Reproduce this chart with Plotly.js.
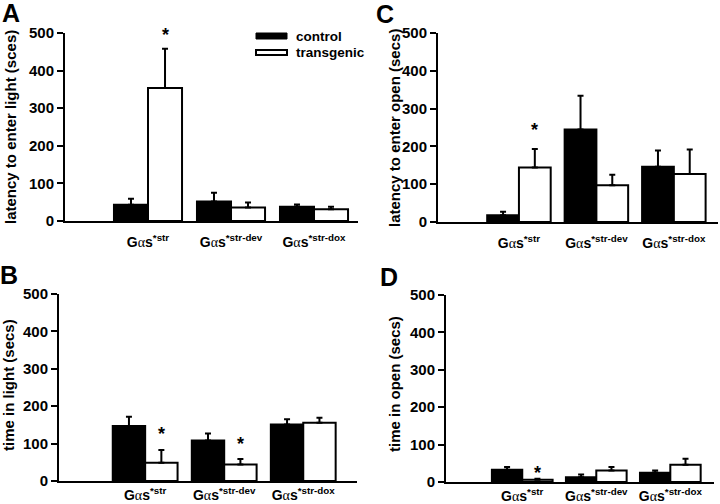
<!DOCTYPE html>
<html>
<head>
<meta charset="utf-8">
<script src="https://cdn.plot.ly/plotly-3.0.1.min.js"></script>
<style>html,body{margin:0;padding:0;background:#fff;}#chart{width:720px;height:504px;}</style>
</head>
<body>
<div id="chart"></div>
<script>
// ---- data ----
const groupPos = [1, 2, 3];
const alpha = '<span style="font-family:Liberation Serif;font-weight:normal">α</span>';
const groupLabels = [
  'G' + alpha + 's<sup>*str</sup>',
  'G' + alpha + 's<sup>*str-dev</sup>',
  'G' + alpha + 's<sup>*str-dox</sup>'
];
const seriesNames = ['control', 'transgenic'];
const yTicks = [0, 100, 200, 300, 400, 500];

// Panel A: latency to enter light
const A_control = [43, 52, 38];
const A_controlErr = [16, 23, 6];
const A_transgenic = [354, 36, 31];
const A_transgenicErr = [104, 13, 7];

// Panel B: time in light
const B_control = [147, 108, 151];
const B_controlErr = [25, 19, 14];
const B_transgenic = [49, 44, 156];
const B_transgenicErr = [34, 15, 13];

// Panel C: latency to enter open
const C_control = [18, 245, 146];
const C_controlErr = [9, 89, 43];
const C_transgenic = [144, 97, 127];
const C_transgenicErr = [49, 28, 65];

// Panel D: time in open
const D_control = [33, 13, 25];
const D_controlErr = [7, 7, 6];
const D_transgenic = [6, 31, 46];
const D_transgenicErr = [3, 9, 16];

// significance stars: [panel, group index, y]
const stars = [
  ['A', 0, 505],
  ['C', 0, 254],
  ['B', 0, 136],
  ['B', 1, 109],
  ['D', 0, 35]
];

// ---- layout helpers ----
const W = 720, H = 504;
const px = v => v / W;
const py = v => 1 - v / H;
const FONT = 'Arial, "Liberation Sans", sans-serif';
const YMAX = 500;

const panels = {
  A: {ctl: A_control, ctlE: A_controlErr, tg: A_transgenic, tgE: A_transgenicErr,
      xd: [65, 358], yd: [33, 221], xr: [0.0, 3.53], title: 'latency to enter light (sces)',
      titleX: 10, titleY: 127, letter: [11, 13], tl: 7},
  C: {ctl: C_control, ctlE: C_controlErr, tg: C_transgenic, tgE: C_transgenicErr,
      xd: [438, 718], yd: [33, 222], xr: [-0.045, 3.57], title: 'latency to enter open (secs)',
      titleX: 394, titleY: 128, letter: [385, 14], tl: 7},
  B: {ctl: B_control, ctlE: B_controlErr, tg: B_transgenic, tgE: B_transgenicErr,
      xd: [59, 357], yd: [294, 481], xr: [-0.09, 3.68], title: 'time in light (secs)',
      titleX: 8, titleY: 385, letter: [9, 275], tl: 0},
  D: {ctl: D_control, ctlE: D_controlErr, tg: D_transgenic, tgE: D_transgenicErr,
      xd: [446, 714], yd: [295, 482], xr: [-0.03, 3.59], title: 'time in open (secs)',
      titleX: 394, titleY: 384, letter: [389, 277], tl: 0}
};
const order = ['A', 'C', 'B', 'D'];

const traces = [];
const layout = {
  width: W, height: H,
  margin: {l: 0, r: 0, t: 0, b: 0},
  paper_bgcolor: '#fff', plot_bgcolor: '#fff',
  font: {family: FONT, color: '#000'},
  barmode: 'group', bargap: 0.18, bargroupgap: 0,
  showlegend: false,
  annotations: [], shapes: []
};

order.forEach((key, i) => {
  const p = panels[key];
  const n = i + 1;
  const xa = n === 1 ? 'x' : 'x' + n;
  const ya = n === 1 ? 'y' : 'y' + n;
  const xk = n === 1 ? 'xaxis' : 'xaxis' + n;
  const yk = n === 1 ? 'yaxis' : 'yaxis' + n;
  traces.push({
    type: 'bar', name: seriesNames[0], x: groupPos, y: p.ctl, xaxis: xa, yaxis: ya,
    marker: {color: '#000', line: {color: '#000', width: 2}},
    error_y: {type: 'data', symmetric: false, array: p.ctlE, arrayminus: p.ctl.map(() => 0),
              color: '#000', thickness: 2, width: 3},
    cliponaxis: false
  });
  traces.push({
    type: 'bar', name: seriesNames[1], x: groupPos, y: p.tg, xaxis: xa, yaxis: ya,
    marker: {color: '#fff', line: {color: '#000', width: 2}},
    error_y: {type: 'data', symmetric: false, array: p.tgE, arrayminus: p.tg.map(() => 0),
              color: '#000', thickness: 2, width: 3},
    cliponaxis: false
  });
  const xaxisDef = {
    domain: [px(p.xd[0]), px(p.xd[1])], anchor: ya, range: p.xr, type: 'linear',
    tickvals: groupPos, ticktext: groupLabels,
    showgrid: false, zeroline: false,
    showline: true, linecolor: '#000', linewidth: 2,
    tickfont: {family: FONT, size: 14, weight: 'bold', color: '#000'}, fixedrange: true
  };
  if (p.tl > 0) {
    xaxisDef.ticks = 'outside'; xaxisDef.ticklen = p.tl; xaxisDef.tickcolor = 'rgba(0,0,0,0)';
  } else {
    xaxisDef.ticks = '';
  }
  layout[xk] = xaxisDef;
  layout[yk] = {
    domain: [py(p.yd[1]), py(p.yd[0])], anchor: xa, range: [0, YMAX],
    tickvals: yTicks, ticks: 'outside', ticklen: 6, tickwidth: 2, tickcolor: '#000',
    showgrid: false, zeroline: false, showline: true, linecolor: '#000', linewidth: 2,
    tickfont: {family: FONT, size: 15, weight: 'bold', color: '#000'}, fixedrange: true
  };
  layout.annotations.push({
    xref: 'paper', yref: 'paper', x: px(p.titleX), y: py(p.titleY), text: p.title,
    textangle: -90, showarrow: false, xanchor: 'center', yanchor: 'middle',
    font: {family: FONT, size: 15, weight: 'bold', color: '#000'}
  });
  layout.annotations.push({
    xref: 'paper', yref: 'paper', x: px(p.letter[0]), y: py(p.letter[1]), text: key,
    showarrow: false, xanchor: 'center', yanchor: 'middle',
    font: {family: FONT, size: 25, weight: 'bold', color: '#000'}
  });
});

// stars (y given in data units, placed via axis-domain fraction so they may sit above the axis top)
stars.forEach(s => {
  const n = order.indexOf(s[0]) + 1;
  layout.annotations.push({
    xref: n === 1 ? 'x' : 'x' + n, yref: (n === 1 ? 'y' : 'y' + n) + ' domain',
    x: groupPos[s[1]] + 0.205, y: s[2] / YMAX, text: '*', showarrow: false,
    xanchor: 'center', yanchor: 'middle', yshift: -4,
    font: {family: FONT, size: 18, weight: 'bold', color: '#000'}
  });
});

// legend (panel A)
layout.shapes.push({type: 'rect', xref: 'paper', yref: 'paper',
  x0: px(256), x1: px(287), y0: py(39), y1: py(33), fillcolor: '#000', line: {color: '#000', width: 1}});
layout.shapes.push({type: 'rect', xref: 'paper', yref: 'paper',
  x0: px(256), x1: px(287), y0: py(55), y1: py(50), fillcolor: '#fff', line: {color: '#000', width: 2}});
layout.annotations.push({xref: 'paper', yref: 'paper', x: px(294), y: py(36.5), text: seriesNames[0],
  showarrow: false, xanchor: 'left', yanchor: 'middle', font: {family: FONT, size: 13.5, weight: 'bold', color: '#000'}});
layout.annotations.push({xref: 'paper', yref: 'paper', x: px(294), y: py(53), text: seriesNames[1],
  showarrow: false, xanchor: 'left', yanchor: 'middle', font: {family: FONT, size: 13.5, weight: 'bold', color: '#000'}});

Plotly.newPlot('chart', traces, layout, {staticPlot: true, displayModeBar: false});
</script>
</body>
</html>
